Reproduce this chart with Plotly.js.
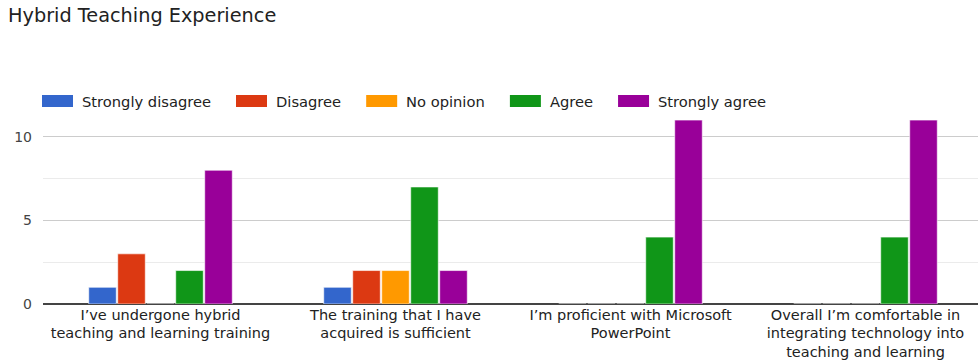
<!DOCTYPE html>
<html>
<head>
<meta charset="utf-8">
<script src="https://cdn.plot.ly/plotly-3.0.1.min.js"></script>
<style>
html,body{margin:0;padding:0;overflow:hidden;background:#fff;}
#chart{width:985px;height:360px;}
</style>
</head>
<body>
<div id="chart"></div>
<script>
const categories = [
  "I’ve undergone hybrid<br>teaching and learning training",
  "The training that I have<br>acquired is sufficient",
  "I’m proficient with Microsoft<br>PowerPoint",
  "Overall I’m comfortable in<br>integrating technology into<br>teaching and learning"
];
const seriesNames = ["Strongly disagree", "Disagree", "No opinion", "Agree", "Strongly agree"];
const stronglyDisagree = [1, 1, 0, 0];
const disagree = [3, 2, 0, 0];
const noOpinion = [0, 2, 0, 0];
const agree = [2, 7, 4, 4];
const stronglyAgree = [8, 2, 11, 11];
const colors = ["#3366cc", "#dc3912", "#ff9900", "#109618", "#990099"];
const yTicks = [0, 5, 10];

const FONT = "DejaVu Sans, Verdana, sans-serif";
const W = 985, H = 360;
const M = {l: 43, r: 2, t: 95, b: 56};
const plotW = W - M.l - M.r, plotH = H - M.t - M.b;
const LEG_SIZE = 14.7;

const seriesValues = [stronglyDisagree, disagree, noOpinion, agree, stronglyAgree];
const traces = seriesValues.map((vals, i) => ({
  type: "bar",
  name: seriesNames[i],
  x: categories,
  y: vals,
  showlegend: false,
  marker: {color: colors[i], line: {color: "rgba(255,255,255,0.6)", width: 1}},
  hoverinfo: "x+y+name"
}));

// custom legend with wide swatches (positions from measured text widths)
const ctx = document.createElement("canvas").getContext("2d");
ctx.font = LEG_SIZE + "px 'DejaVu Sans'";
const shapes = [], annotations = [];
let cur = 42;
const legendCenterY = 101;
const py = v => (H - M.b - v) / plotH;
const px = v => (v - M.l) / plotW;
seriesNames.forEach((name, i) => {
  shapes.push({
    type: "rect", xref: "paper", yref: "paper",
    x0: px(cur), x1: px(cur + 31),
    y0: py(legendCenterY + 6), y1: py(legendCenterY - 6),
    fillcolor: colors[i], line: {width: 0}
  });
  annotations.push({
    xref: "paper", yref: "paper",
    x: px(cur + 40), y: py(legendCenterY),
    xanchor: "left", yanchor: "middle",
    text: name, showarrow: false,
    borderpad: 0, borderwidth: 0,
    font: {family: FONT, size: LEG_SIZE, color: "#222"}
  });
  const tw = ctx.measureText(name).width;
  cur = cur + 40 + tw + 25;
});

const layout = {
  width: W,
  height: H,
  margin: M,
  paper_bgcolor: "#fff",
  plot_bgcolor: "#fff",
  font: {family: FONT, size: 14, color: "#222"},
  title: {
    text: "Hybrid Teaching Experience",
    x: 8/W, xref: "container", xanchor: "left",
    y: 1 - 15/H, yref: "container", yanchor: "middle",
    font: {family: FONT, size: 19.3, color: "#222"}
  },
  barmode: "group",
  bargap: 0.383,
  bargroupgap: 0.05,
  showlegend: false,
  shapes: shapes,
  annotations: annotations,
  xaxis: {
    type: "category",
    tickfont: {family: FONT, size: 14.5, color: "#222"},
    showgrid: false,
    ticks: "",
    showline: false,
    fixedrange: true
  },
  yaxis: {
    range: [0, 12.5],
    tickvals: yTicks,
    ticktext: yTicks.map(String),
    tickfont: {family: FONT, size: 14, color: "#444"},
    showgrid: true,
    gridcolor: "#cccccc",
    gridwidth: 1,
    minor: {dtick: 2.5, tick0: 0, showgrid: true, gridcolor: "#ebebeb", gridwidth: 1},
    zeroline: true,
    zerolinecolor: "#444444",
    zerolinewidth: 1.5,
    showline: false,
    ticks: "",
    ticklabelstandoff: 10,
    fixedrange: true
  }
};

Plotly.newPlot("chart", traces, layout, {displayModeBar: false, staticPlot: true});
</script>
</body>
</html>
